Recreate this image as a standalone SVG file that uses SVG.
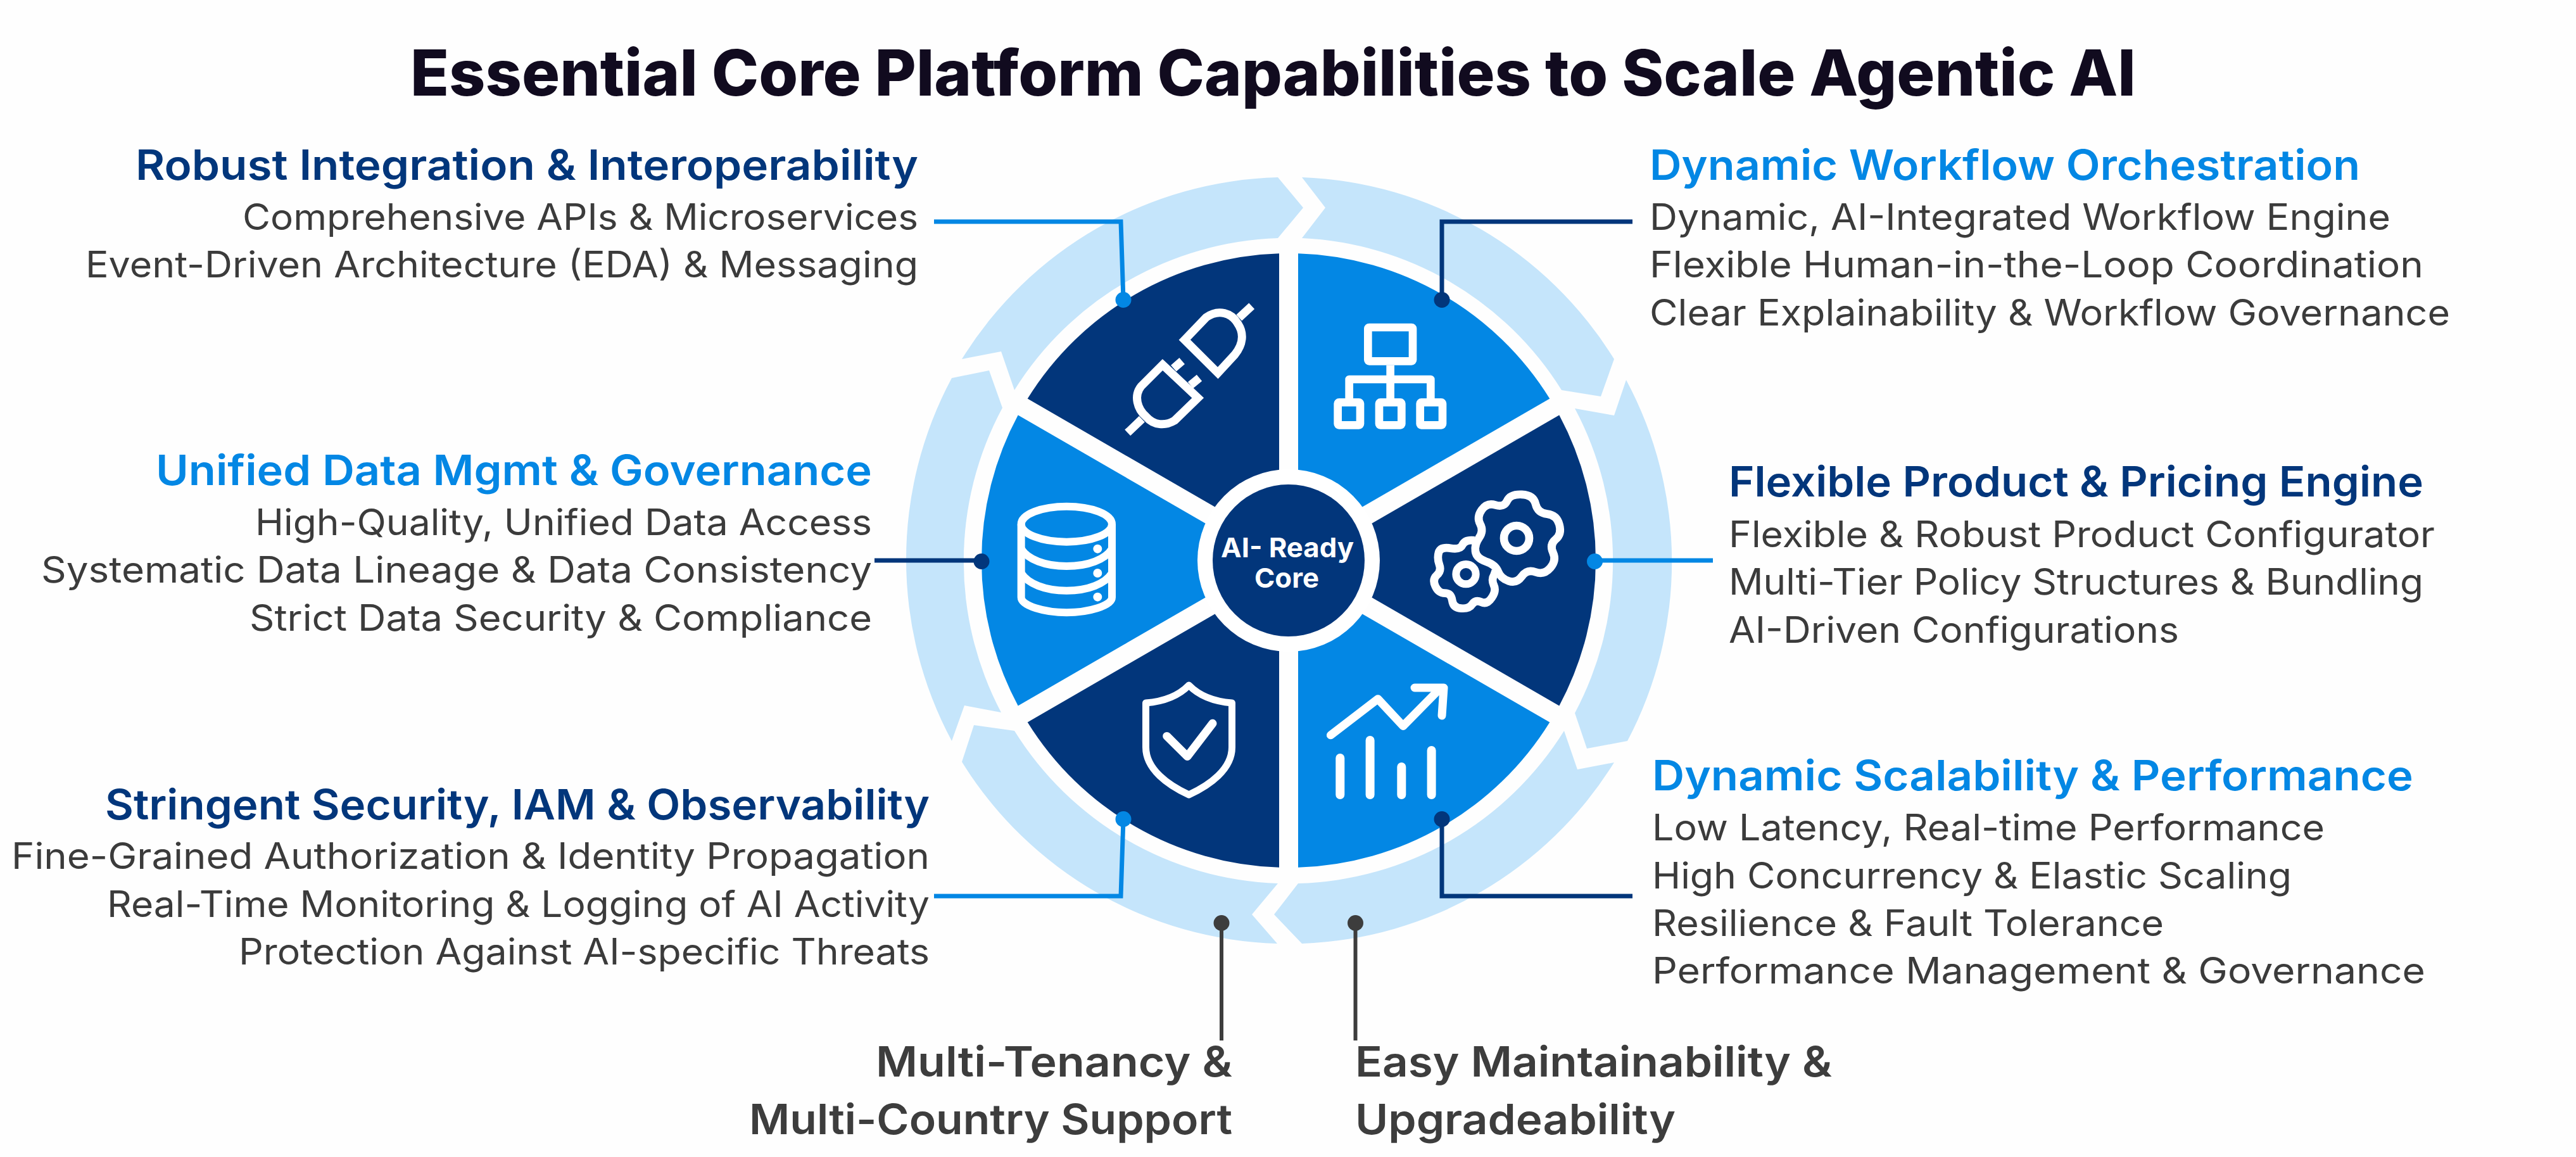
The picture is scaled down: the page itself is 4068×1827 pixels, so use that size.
<svg xmlns="http://www.w3.org/2000/svg" width="4068" height="1827" viewBox="0 0 4068 1827">
<style>
text{font-family:"Inter","Noto Sans","Liberation Sans",sans-serif}
.title{font-size:100px;font-weight:800;fill:#110b1f}
.h{font-size:66px;font-weight:600}
.b{font-size:57px;font-weight:400;fill:#3b3b3b}
.dark{fill:#02367b}.blue{fill:#0387e4}.grey{fill:#3d3d3d}
.ring{fill:#c5e5fb}
.ico{fill:none;stroke:#fff;stroke-linejoin:round}
.hubt{font-size:43px;font-weight:700;fill:#fff;text-anchor:middle}
.c{fill:none;stroke-width:7}
.g{stroke-width:6}
</style>
<defs>
<marker id="dotBlue" markerUnits="userSpaceOnUse" markerWidth="28" markerHeight="28" refX="14" refY="14"><circle cx="14" cy="14" r="12.5" fill="#0387e4"/></marker>
<marker id="dotDark" markerUnits="userSpaceOnUse" markerWidth="28" markerHeight="28" refX="14" refY="14"><circle cx="14" cy="14" r="12.5" fill="#02367b"/></marker>
<marker id="dotGrey" markerUnits="userSpaceOnUse" markerWidth="28" markerHeight="28" refX="14" refY="14"><circle cx="14" cy="14" r="12.5" fill="#3d3d3d"/></marker>
</defs>
<rect width="4068" height="1827" fill="#fefefe"/>
<text id="title" class="title" x="648" y="151" textLength="2725" lengthAdjust="spacingAndGlyphs">Essential Core Platform Capabilities to Scale Agentic AI</text>

<g id="ring">
<path class="ring" d="M2056 280 L2093 328 L2056 376 A511 511 0 0 1 2466 616 L2528 626 L2549 567 A606 606 0 0 0 2056 280 Z"/>
<path class="ring" d="M2568 600 L2549 656 L2487 645 A511 511 0 0 1 2487 1126 L2506 1182 L2570 1170 A606 606 0 0 0 2568 600 Z"/>
<path class="ring" d="M2549 1204 L2491 1215 L2470 1154 A511 511 0 0 1 2050 1395 L2012 1444 L2056 1490 A606 606 0 0 0 2549 1204 Z"/>
<path class="ring" d="M2017 1490 L1977 1444 L2018 1395 A511 511 0 0 1 1602 1154 L1538 1145 L1519 1203 A606 606 0 0 0 2017 1490 Z"/>
<path class="ring" d="M1503 1170 L1523 1114 L1581 1125 A511 511 0 0 1 1583 644 L1562 585 L1503 597 A606 606 0 0 0 1503 1170 Z"/>
<path class="ring" d="M1519 567 L1581 555 L1602 616 A511 511 0 0 1 2018 376 L2058 328 L2018 280 A606 606 0 0 0 1519 567 Z"/>
</g>

<g id="node-integration">
<path class="dark" d="M1922.1 802.5 L1622.7 629.6 A485 485 0 0 1 2020 400.2 L2020 746 Z"/>
<g class="ico" stroke-width="13">
<path d="M1870.7 536.7 L1905 501 C1925 487 1945 495 1954 510 C1966 527 1962 545 1950 560 L1923.3 589 Z" stroke-linejoin="miter"/>
<path d="M1956.7 501.7 L1976.7 483.3"/>
<path d="M1836 576 L1891.7 628.3 L1855 664 C1840 673 1822 672 1810 658 C1796 646 1790 625 1802 610 Z" stroke-linejoin="miter"/>
<path d="M1853.3 581.7 L1866.7 570 M1880 608.3 L1894 596.7 M1803.3 661.7 L1780.7 683.3"/>
</g>
<text class="h dark" x="214" y="284" textLength="1236" lengthAdjust="spacingAndGlyphs">Robust Integration &amp; Interoperability</text>
<text class="b" x="383" y="363" textLength="1067" lengthAdjust="spacingAndGlyphs">Comprehensive APIs &amp; Microservices</text>
<text class="b" x="135" y="438" textLength="1315" lengthAdjust="spacingAndGlyphs">Event-Driven Architecture (EDA) &amp; Messaging</text>
</g>

<g id="node-workflow">
<path class="blue" d="M2050 746 L2050 400.2 A485 485 0 0 1 2447.3 629.6 L2147.9 802.5 Z"/>
<g class="ico" transform="translate(2080 490) scale(.3333)" stroke-width="38">
<rect x="241" y="81" width="212" height="160" rx="6"/>
<rect x="98" y="436" width="106" height="108" rx="6"/>
<rect x="294" y="436" width="106" height="108" rx="6"/>
<rect x="488" y="436" width="106" height="108" rx="6"/>
<path d="M347 260 V420 M152 420 V327 H538 V420"/>
</g>
<text class="h blue" x="2605" y="284" textLength="1122" lengthAdjust="spacingAndGlyphs">Dynamic Workflow Orchestration</text>
<text class="b" x="2605" y="363" textLength="1170" lengthAdjust="spacingAndGlyphs">Dynamic, AI-Integrated Workflow Engine</text>
<text class="b" x="2605" y="438" textLength="1222" lengthAdjust="spacingAndGlyphs">Flexible Human-in-the-Loop Coordination</text>
<text class="b" x="2605" y="514" textLength="1264" lengthAdjust="spacingAndGlyphs">Clear Explainability &amp; Workflow Governance</text>
</g>

<g id="node-pricing">
<path class="dark" d="M2162.9 828.5 L2462.3 655.6 A485 485 0 0 1 2462.3 1114.4 L2162.9 941.5 Z"/>
<g class="ico" transform="translate(2230 760) scale(.3333)" stroke-width="38">
<path d="M295 280 Q250 275 238 302 Q228 325 181 317 Q135 310 126 337 Q118 365 129 395 Q140 425 117 445 Q95 465 110 497 Q125 530 155 530 Q185 530 190 565 Q195 600 232 602 Q270 605 285 582 Q300 560 327 572 Q355 585 377 552 Q400 520 387 492 Q375 465 388 445 L395 425"/>
<path d="M450 92.5 Q465 60 520 62.5 Q575 65 585 107.5 Q595 150 640 155 Q685 160 697.5 205 Q710 250 680 275 Q650 300 667.5 337.5 Q685 375 655 410 Q625 445 585 430 Q545 415 520 450 Q495 485 457.5 472.5 Q420 460 407.5 427.5 Q395 395 350 380 Q305 365 300 332.5 Q295 300 317.5 267.5 Q340 235 322.5 202.5 Q305 170 330 135 Q355 100 395 112.5 Q435 125 450 92.5 Z"/>
<circle cx="495" cy="270" r="60"/>
<circle cx="255" cy="440" r="47" stroke-width="36"/>
</g>
<text class="h dark" x="2730" y="784" textLength="1097" lengthAdjust="spacingAndGlyphs">Flexible Product &amp; Pricing Engine</text>
<text class="b" x="2730" y="864" textLength="1115" lengthAdjust="spacingAndGlyphs">Flexible &amp; Robust Product Configurator</text>
<text class="b" x="2730" y="939" textLength="1097" lengthAdjust="spacingAndGlyphs">Multi-Tier Policy Structures &amp; Bundling</text>
<text class="b" x="2730" y="1015" textLength="711" lengthAdjust="spacingAndGlyphs">AI-Driven Configurations</text>
</g>

<g id="node-scalability">
<path class="blue" d="M2147.9 967.5 L2447.3 1140.4 A485 485 0 0 1 2050 1369.8 L2050 1024 Z"/>
<g class="ico" stroke-width="13" stroke-linecap="round">
<path d="M2101.4 1160.8 L2176 1103.7 L2215.8 1146.4 L2271.4 1090"/>
<path d="M2234 1086 H2280 L2277 1130"/>
<path stroke-width="14" d="M2116.3 1197 V1255 M2163.6 1169 V1255 M2213.3 1211 V1255 M2260.6 1185 V1255"/>
</g>
<text class="h blue" x="2609" y="1248" textLength="1202" lengthAdjust="spacingAndGlyphs">Dynamic Scalability &amp; Performance</text>
<text class="b" x="2609" y="1327" textLength="1062" lengthAdjust="spacingAndGlyphs">Low Latency, Real-time Performance</text>
<text class="b" x="2609" y="1403" textLength="1010" lengthAdjust="spacingAndGlyphs">High Concurrency &amp; Elastic Scaling</text>
<text class="b" x="2609" y="1478" textLength="808" lengthAdjust="spacingAndGlyphs">Resilience &amp; Fault Tolerance</text>
<text class="b" x="2609" y="1553" textLength="1221" lengthAdjust="spacingAndGlyphs">Performance Management &amp; Governance</text>
</g>

<g id="node-security">
<path class="dark" d="M2020 1024 L2020 1369.8 A485 485 0 0 1 1622.7 1140.4 L1922.1 967.5 Z"/>
<g class="ico" stroke-width="11">
<path d="M1877.5 1082 C1860 1100 1835 1108 1809.5 1110 V1180 C1809.5 1215 1845 1240 1877.5 1255 C1910 1240 1945.5 1215 1945.5 1180 V1110 C1920 1108 1895 1100 1877.5 1082 Z"/>
<path d="M1842.7 1162.4 L1875 1194.5 L1915 1142.3" stroke-width="13" stroke-linecap="round"/>
</g>
<text class="h dark" x="166" y="1294" textLength="1302" lengthAdjust="spacingAndGlyphs">Stringent Security, IAM &amp; Observability</text>
<text class="b" x="18" y="1372" textLength="1450" lengthAdjust="spacingAndGlyphs">Fine-Grained Authorization &amp; Identity Propagation</text>
<text class="b" x="169" y="1448" textLength="1299" lengthAdjust="spacingAndGlyphs">Real-Time Monitoring &amp; Logging of AI Activity</text>
<text class="b" x="377" y="1523" textLength="1091" lengthAdjust="spacingAndGlyphs">Protection Against AI-specific Threats</text>
</g>

<g id="node-data">
<path class="blue" d="M1907.1 941.5 L1607.7 1114.4 A485 485 0 0 1 1607.7 655.6 L1907.1 828.5 Z"/>
<g class="ico" transform="translate(1590 770) scale(.3333)" stroke-width="36">
<ellipse cx="283" cy="173" rx="215" ry="84"/>
<path d="M68 173 V520 C68 560 180 592 283 592 C386 592 498 560 498 520 V173"/>
<path d="M68 290 C100 340 180 372 283 372 C386 372 466 340 498 290"/>
<path d="M68 405 C100 455 180 488 283 488 C386 488 466 455 498 405"/>
<circle cx="430" cy="290" r="21" fill="#fff" stroke="none"/>
<circle cx="430" cy="405" r="21" fill="#fff" stroke="none"/>
<circle cx="430" cy="518" r="21" fill="#fff" stroke="none"/>
</g>
<text class="h blue" x="246" y="766" textLength="1131" lengthAdjust="spacingAndGlyphs">Unified Data Mgmt &amp; Governance</text>
<text class="b" x="403" y="845" textLength="974" lengthAdjust="spacingAndGlyphs">High-Quality, Unified Data Access</text>
<text class="b" x="65" y="920" textLength="1312" lengthAdjust="spacingAndGlyphs">Systematic Data Lineage &amp; Data Consistency</text>
<text class="b" x="394" y="996" textLength="983" lengthAdjust="spacingAndGlyphs">Strict Data Security &amp; Compliance</text>
</g>

<g id="node-hub">
<circle cx="2035" cy="885" r="144" fill="#fff"/>
<circle cx="2035" cy="885" r="120" fill="#02367b"/>
<text class="hubt" x="2033" y="880" textLength="210" lengthAdjust="spacingAndGlyphs">AI- Ready</text>
<text class="hubt" x="2032" y="928" textLength="102" lengthAdjust="spacingAndGlyphs">Core</text>
</g>

<g id="node-tenancy">
<text class="h grey" x="1383" y="1700" textLength="563" lengthAdjust="spacingAndGlyphs">Multi-Tenancy &amp;</text>
<text class="h grey" x="1183" y="1791" textLength="763" lengthAdjust="spacingAndGlyphs">Multi-Country Support</text>
</g>
<g id="node-maintainability">
<text class="h grey" x="2140" y="1700" textLength="753" lengthAdjust="spacingAndGlyphs">Easy Maintainability &amp;</text>
<text class="h grey" x="2140" y="1791" textLength="506" lengthAdjust="spacingAndGlyphs">Upgradeability</text>
</g>

<g id="connectors">
<path class="c" stroke="#0387e4" marker-end="url(#dotBlue)" d="M1475 350 H1770 L1774 473.5"/>
<path class="c" stroke="#02367b" marker-end="url(#dotDark)" d="M2578 350 H2277 V473.5"/>
<path class="c" stroke="#0387e4" marker-end="url(#dotBlue)" d="M2705 885 H2518.5 V886.5"/>
<path class="c" stroke="#02367b" marker-end="url(#dotDark)" d="M1381 885 H1550 V886.5"/>
<path class="c" stroke="#0387e4" marker-end="url(#dotBlue)" d="M1475 1415 H1770 L1774 1293.5"/>
<path class="c" stroke="#02367b" marker-end="url(#dotDark)" d="M2578 1415 H2277 V1293.5"/>
<path class="c g" stroke="#3d3d3d" marker-end="url(#dotGrey)" d="M1929 1643 V1457.5"/>
<path class="c g" stroke="#3d3d3d" marker-end="url(#dotGrey)" d="M2140.5 1643 V1457.5"/>
</g>
</svg>
